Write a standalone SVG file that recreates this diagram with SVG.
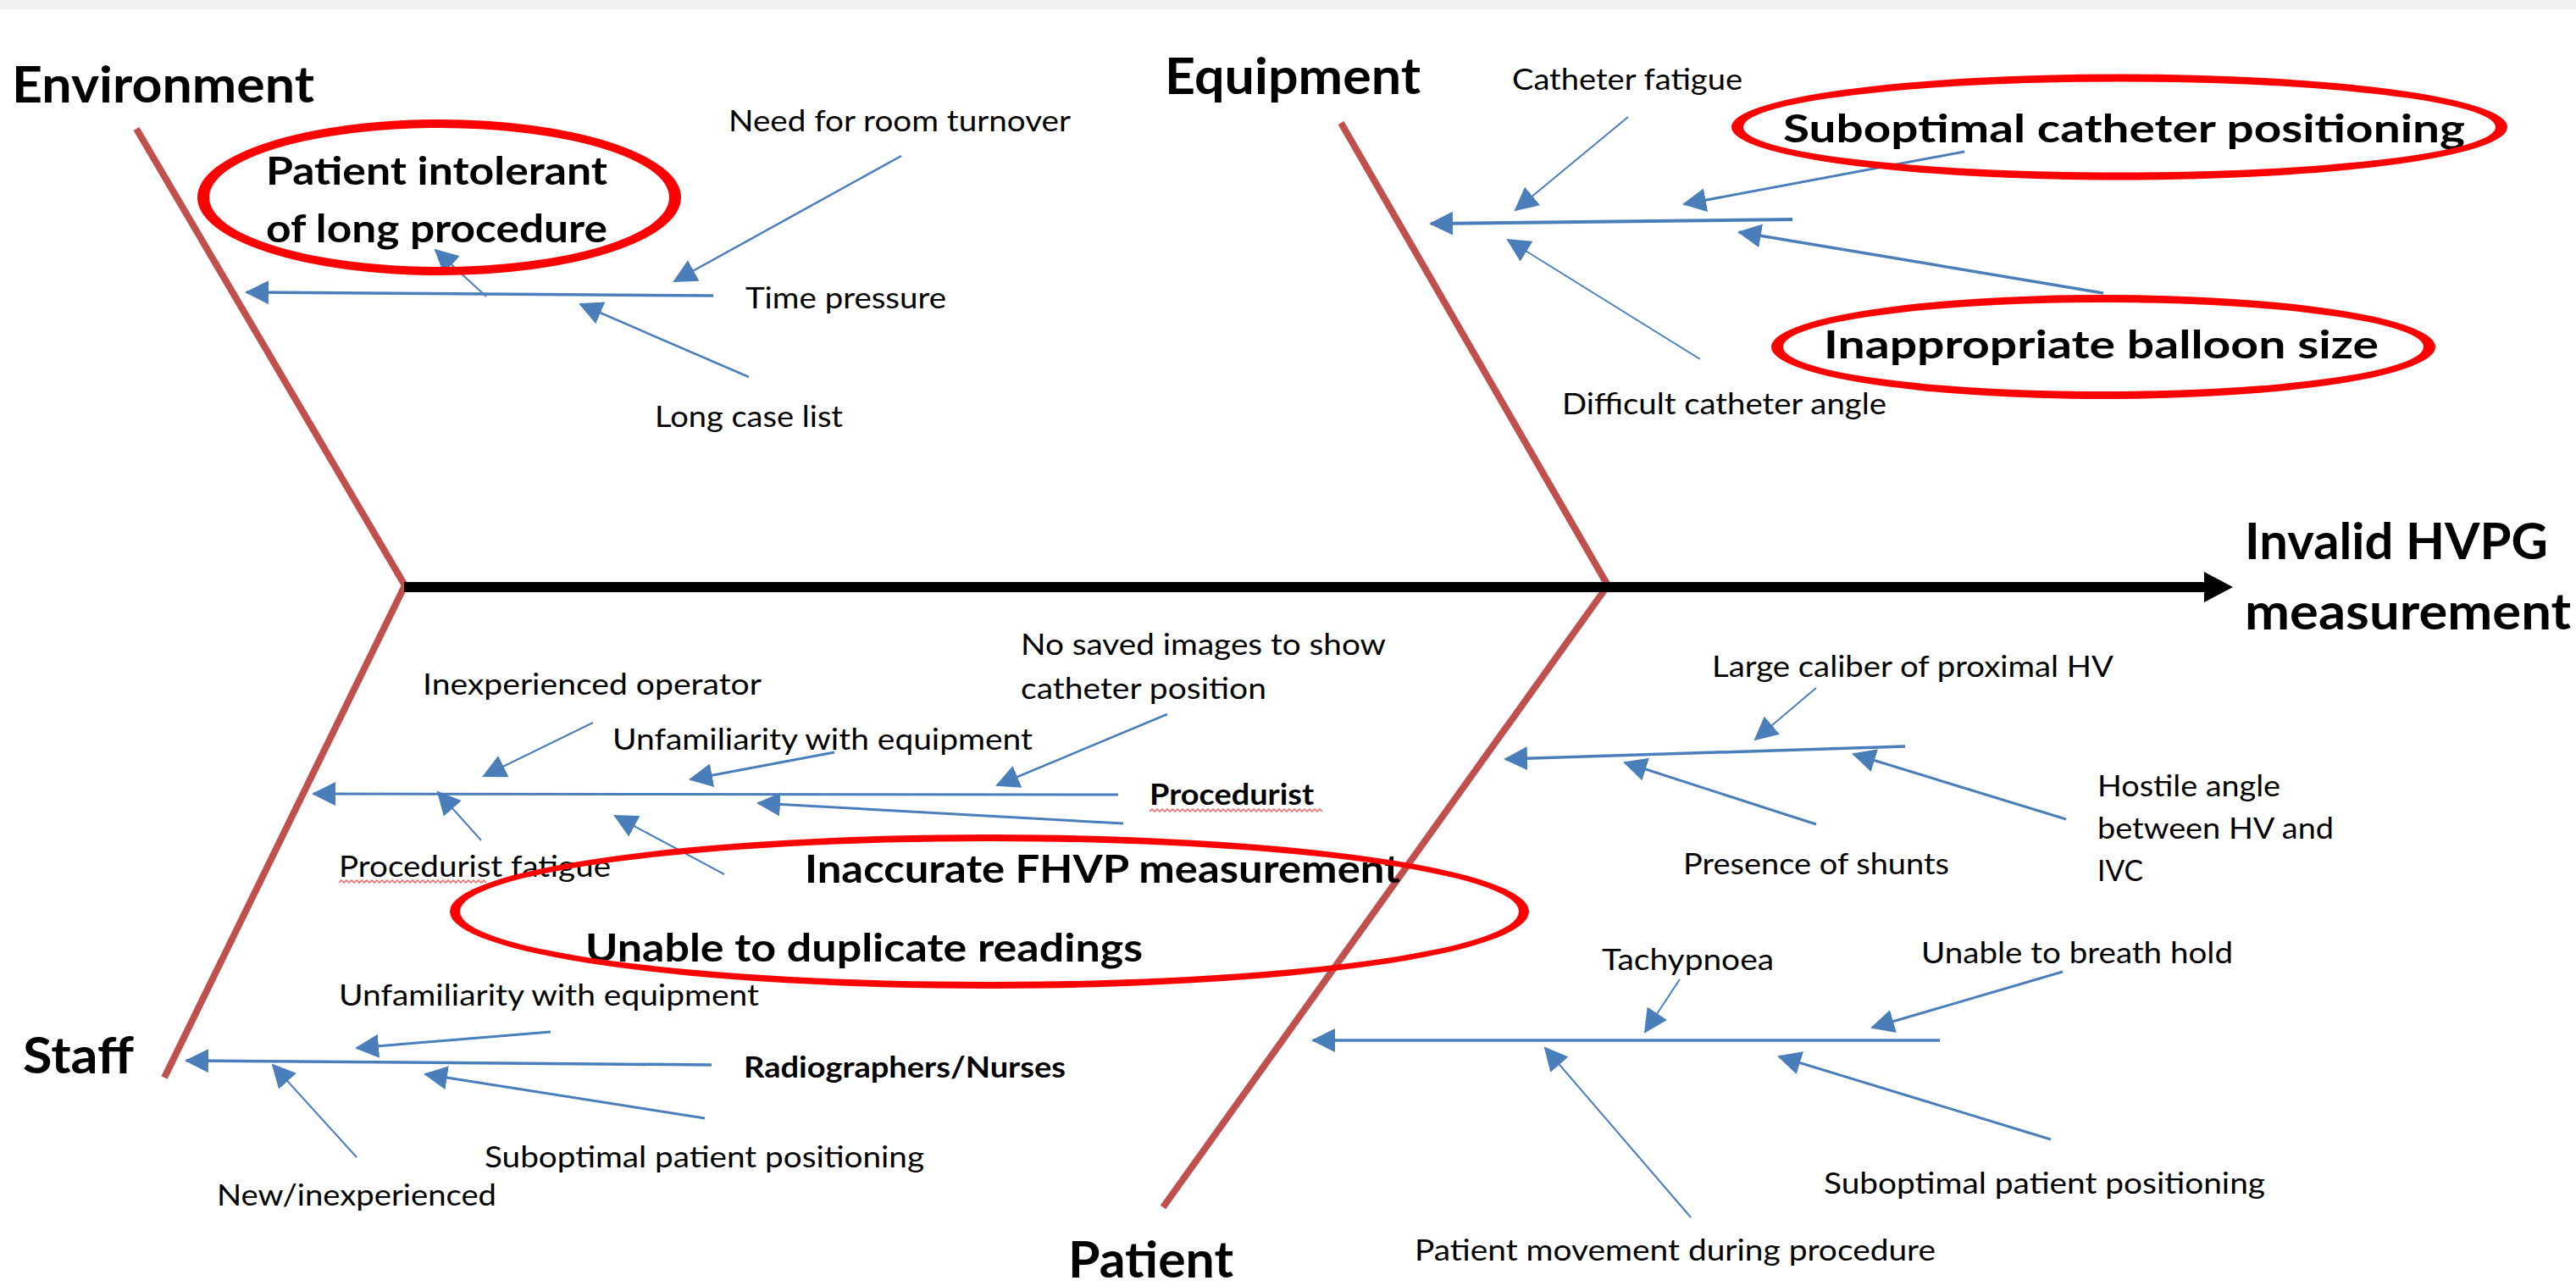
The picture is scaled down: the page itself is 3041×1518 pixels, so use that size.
<svg xmlns="http://www.w3.org/2000/svg" width="3041" height="1518" viewBox="0 0 3041 1518">
<style>
text{font-family:Lato,"Liberation Sans",sans-serif;fill:#000}
.hb{font-size:60px;font-weight:700}
.mb{font-size:46px;font-weight:700}
.sb{font-size:34px;font-weight:700}
.r{font-size:35px}
.bone{stroke:#c0504d;stroke-width:8;fill:none}
.arr{stroke:#4a7ebb;fill:none;marker-end:url(#ah)}
.ring{fill:#ff0000;fill-rule:evenodd;stroke:none}
.wavy{fill:none;stroke:#ff5a5a;stroke-width:1.3}
</style>
<defs>
<marker id="ah" markerUnits="userSpaceOnUse" viewBox="0 0 28 28" markerWidth="28" markerHeight="28" refX="26" refY="14" orient="auto"><path d="M0,0 L28,14 L0,28 z" fill="#4a7ebb"/></marker>
</defs>
<rect x="0" y="0" width="3041" height="1518" fill="#fff"/>
<rect x="0" y="0" width="3041" height="11" fill="#f0f0f0"/>

<g id="connectors">
  <g id="bones">
    <line class="bone" x1="161" y1="152" x2="478" y2="691"/>
    <line class="bone" x1="478" y1="691" x2="194" y2="1272"/>
    <line class="bone" x1="1583" y1="145" x2="1898" y2="691"/>
    <line class="bone" x1="1898" y1="691" x2="1373" y2="1425"/>
  </g>
  <g id="spine">
    <line x1="477" y1="693" x2="2604" y2="693" stroke="#000" stroke-width="12"/>
    <polygon points="2602,675 2636,693 2602,711" fill="#000"/>
  </g>
  <g id="environment-arrows">
    <line class="arr" stroke-width="3.5" x1="842" y1="349" x2="291" y2="345"/>
    <line class="arr" stroke-width="2.5" x1="1064" y1="184" x2="796" y2="332"/>
    <line class="arr" stroke-width="2" x1="574" y1="350" x2="514" y2="295"/>
    <line class="arr" stroke-width="2.5" x1="884" y1="445" x2="685" y2="359"/>
  </g>
  <g id="equipment-arrows">
    <line class="arr" stroke-width="4" x1="2116" y1="259" x2="1689" y2="264"/>
    <line class="arr" stroke-width="2" x1="1922" y1="138" x2="1789" y2="248"/>
    <line class="arr" stroke-width="3" x1="2319" y1="179" x2="1988" y2="241"/>
    <line class="arr" stroke-width="3.5" x1="2483" y1="346" x2="2053" y2="274"/>
    <line class="arr" stroke-width="2" x1="2007" y1="424" x2="1780" y2="283"/>
  </g>
  <g id="procedurist-arrows">
    <line class="arr" stroke-width="3" x1="1320" y1="938" x2="370" y2="937"/>
    <line class="arr" stroke-width="2" x1="700" y1="853" x2="571" y2="916"/>
    <line class="arr" stroke-width="3" x1="985" y1="888" x2="815" y2="920"/>
    <line class="arr" stroke-width="2.5" x1="1378" y1="843" x2="1177" y2="927"/>
    <line class="arr" stroke-width="3" x1="1326" y1="972" x2="895" y2="948"/>
    <line class="arr" stroke-width="2" x1="568" y1="992" x2="517" y2="935"/>
    <line class="arr" stroke-width="2" x1="855" y1="1032" x2="726" y2="963"/>
  </g>
  <g id="staff-arrows">
    <line class="arr" stroke-width="3.5" x1="840" y1="1257" x2="220" y2="1252"/>
    <line class="arr" stroke-width="3" x1="650" y1="1218" x2="421" y2="1237"/>
    <line class="arr" stroke-width="2" x1="421" y1="1366" x2="322" y2="1257"/>
    <line class="arr" stroke-width="3" x1="832" y1="1320" x2="502" y2="1268"/>
  </g>
  <g id="patient-upper-arrows">
    <line class="arr" stroke-width="3.5" x1="2249" y1="881" x2="1777" y2="896"/>
    <line class="arr" stroke-width="2" x1="2144" y1="812" x2="2072" y2="873"/>
    <line class="arr" stroke-width="3" x1="2144" y1="973" x2="1918" y2="900"/>
    <line class="arr" stroke-width="3" x1="2439" y1="967" x2="2188" y2="890"/>
  </g>
  <g id="patient-lower-arrows">
    <line class="arr" stroke-width="3.5" x1="2290" y1="1228" x2="1550" y2="1228"/>
    <line class="arr" stroke-width="2" x1="1983" y1="1156" x2="1942" y2="1218"/>
    <line class="arr" stroke-width="3" x1="2435" y1="1147" x2="2210" y2="1213"/>
    <line class="arr" stroke-width="2" x1="1996" y1="1437" x2="1824" y2="1237"/>
    <line class="arr" stroke-width="3" x1="2421" y1="1345" x2="2100" y2="1247"/>
  </g>
</g>

<g id="effect"><text class="hb" x="2650" y="660" textLength="358" lengthAdjust="spacingAndGlyphs">Invalid HVPG</text><text class="hb" x="2650" y="743" textLength="385" lengthAdjust="spacingAndGlyphs">measurement</text></g>

<g id="cat-environment"><text class="hb" x="14" y="121" textLength="357" lengthAdjust="spacingAndGlyphs">Environment</text></g>
<g id="cat-equipment"><text class="hb" x="1375" y="111" textLength="302" lengthAdjust="spacingAndGlyphs">Equipment</text></g>
<g id="cat-staff"><text class="hb" x="27" y="1267" textLength="131" lengthAdjust="spacingAndGlyphs">Staff</text></g>
<g id="cat-patient"><text class="hb" x="1261" y="1508" textLength="195" lengthAdjust="spacingAndGlyphs">Patient</text></g>

<g id="env-causes">
  <g id="need-room"><text class="r" x="860" y="155" textLength="404" lengthAdjust="spacingAndGlyphs">Need for room turnover</text></g>
  <g id="time-pressure"><text class="r" x="880" y="364" textLength="237" lengthAdjust="spacingAndGlyphs">Time pressure</text></g>
  <g id="long-case"><text class="r" x="773" y="504" textLength="222" lengthAdjust="spacingAndGlyphs">Long case list</text></g>
  <g id="patient-intolerant"><text class="mb" x="314" y="218" textLength="403" lengthAdjust="spacingAndGlyphs">Patient intolerant</text><text class="mb" x="314" y="286" textLength="403" lengthAdjust="spacingAndGlyphs">of long procedure</text></g>
</g>

<g id="equip-causes">
  <g id="catheter-fatigue"><text class="r" x="1785" y="106" textLength="272" lengthAdjust="spacingAndGlyphs">Catheter fatigue</text></g>
  <g id="suboptimal-catheter"><text class="mb" x="2105" y="168" textLength="805" lengthAdjust="spacingAndGlyphs">Suboptimal catheter positioning</text></g>
  <g id="inappropriate-balloon"><text class="mb" x="2153" y="423" textLength="655" lengthAdjust="spacingAndGlyphs">Inappropriate balloon size</text></g>
  <g id="difficult-angle"><text class="r" x="1844" y="489" textLength="383" lengthAdjust="spacingAndGlyphs">Difficult catheter angle</text></g>
</g>

<g id="staff-causes">
  <g id="no-saved"><text class="r" x="1205" y="773" textLength="431" lengthAdjust="spacingAndGlyphs">No saved images to show</text><text class="r" x="1205" y="825" textLength="290" lengthAdjust="spacingAndGlyphs">catheter position</text></g>
  <g id="inexperienced-operator"><text class="r" x="499" y="820" textLength="400" lengthAdjust="spacingAndGlyphs">Inexperienced operator</text></g>
  <g id="unfamiliarity-proc"><text class="r" x="723" y="885" textLength="496" lengthAdjust="spacingAndGlyphs">Unfamiliarity with equipment</text></g>
  <g id="procedurist"><text class="sb" x="1357" y="950" textLength="194" lengthAdjust="spacingAndGlyphs">Procedurist</text>
    <path class="wavy" d="M1357,958 l3,-3 3,3 3,-3 3,3 3,-3 3,3 3,-3 3,3 3,-3 3,3 3,-3 3,3 3,-3 3,3 3,-3 3,3 3,-3 3,3 3,-3 3,3 3,-3 3,3 3,-3 3,3 3,-3 3,3 3,-3 3,3 3,-3 3,3 3,-3 3,3 3,-3 3,3 3,-3 3,3 3,-3 3,3 3,-3 3,3 3,-3 3,3 3,-3 3,3 3,-3 3,3 3,-3 3,3 3,-3 3,3 3,-3 3,3 3,-3 3,3 3,-3 3,3 3,-3 3,3 3,-3 3,3 3,-3 3,3 3,-3 3,3 3,-3 3,3 3,-3 3,3"/></g>
  <g id="procedurist-fatigue"><text class="r" x="400" y="1035" textLength="321" lengthAdjust="spacingAndGlyphs">Procedurist fatigue</text>
    <path class="wavy" d="M400,1042 l3,-3 3,3 3,-3 3,3 3,-3 3,3 3,-3 3,3 3,-3 3,3 3,-3 3,3 3,-3 3,3 3,-3 3,3 3,-3 3,3 3,-3 3,3 3,-3 3,3 3,-3 3,3 3,-3 3,3 3,-3 3,3 3,-3 3,3 3,-3 3,3 3,-3 3,3 3,-3 3,3 3,-3 3,3 3,-3 3,3 3,-3 3,3 3,-3 3,3 3,-3 3,3 3,-3 3,3 3,-3 3,3 3,-3 3,3 3,-3 3,3 3,-3 3,3 3,-3 3,3"/></g>
  <g id="inaccurate-fhvp"><text class="mb" x="950" y="1042" textLength="703" lengthAdjust="spacingAndGlyphs">Inaccurate FHVP measurement</text></g>
  <g id="unable-duplicate"><text class="mb" x="691" y="1135" textLength="658" lengthAdjust="spacingAndGlyphs">Unable to duplicate readings</text></g>
  <g id="unfamiliarity-staff"><text class="r" x="400" y="1187" textLength="496" lengthAdjust="spacingAndGlyphs">Unfamiliarity with equipment</text></g>
  <g id="radiographers"><text class="sb" x="878" y="1272" textLength="380" lengthAdjust="spacingAndGlyphs">Radiographers/Nurses</text></g>
  <g id="suboptimal-staff"><text class="r" x="572" y="1378" textLength="519" lengthAdjust="spacingAndGlyphs">Suboptimal patient positioning</text></g>
  <g id="new-inexperienced"><text class="r" x="256" y="1423" textLength="330" lengthAdjust="spacingAndGlyphs">New/inexperienced</text></g>
</g>

<g id="patient-causes">
  <g id="large-caliber"><text class="r" x="2021" y="799" textLength="474" lengthAdjust="spacingAndGlyphs">Large caliber of proximal HV</text></g>
  <g id="hostile-angle"><text class="r" x="2476" y="940" textLength="216" lengthAdjust="spacingAndGlyphs">Hostile angle</text><text class="r" x="2476" y="990" textLength="279" lengthAdjust="spacingAndGlyphs">between HV and</text><text class="r" x="2476" y="1040" textLength="54" lengthAdjust="spacingAndGlyphs">IVC</text></g>
  <g id="presence-shunts"><text class="r" x="1987" y="1032" textLength="314" lengthAdjust="spacingAndGlyphs">Presence of shunts</text></g>
  <g id="tachypnoea"><text class="r" x="1891" y="1145" textLength="203" lengthAdjust="spacingAndGlyphs">Tachypnoea</text></g>
  <g id="breath-hold"><text class="r" x="2268" y="1137" textLength="368" lengthAdjust="spacingAndGlyphs">Unable to breath hold</text></g>
  <g id="suboptimal-patient"><text class="r" x="2153" y="1409" textLength="521" lengthAdjust="spacingAndGlyphs">Suboptimal patient positioning</text></g>
  <g id="patient-movement"><text class="r" x="1670" y="1488" textLength="615" lengthAdjust="spacingAndGlyphs">Patient movement during procedure</text></g>
</g>

<g id="highlights">
  <path id="ring-intolerant" class="ring" d="M233,233 a285.5,92 0 1,0 571,0 a285.5,92 0 1,0 -571,0 z M247,233 a271.5,82 0 1,0 543,0 a271.5,82 0 1,0 -543,0 z"/>
  <path id="ring-catheter" class="ring" d="M2044,150 a458,62.5 0 1,0 916,0 a458,62.5 0 1,0 -916,0 z M2058,150 a444,53.5 0 1,0 888,0 a444,53.5 0 1,0 -888,0 z"/>
  <path id="ring-balloon" class="ring" d="M2091,409.5 a392,61.5 0 1,0 784,0 a392,61.5 0 1,0 -784,0 z M2105,409.5 a378,52.5 0 1,0 756,0 a378,52.5 0 1,0 -756,0 z"/>
  <path id="ring-fhvp" class="ring" d="M531,1076 a637,91 0 1,0 1274,0 a637,91 0 1,0 -1274,0 z M543,1076 a625,83 0 1,0 1250,0 a625,83 0 1,0 -1250,0 z"/>
</g>
</svg>
